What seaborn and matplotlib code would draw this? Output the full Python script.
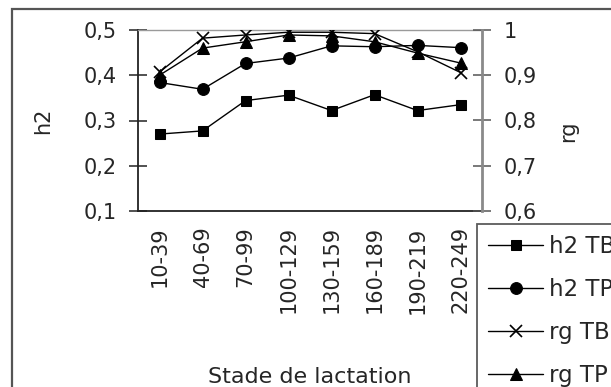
import matplotlib
matplotlib.use("Agg")
import matplotlib.pyplot as plt
import matplotlib.ticker as ticker
from matplotlib.patches import Rectangle
import seaborn as sns

# Data
stades = ["10-39", "40-69", "70-99", "100-129", "130-159", "160-189", "190-219", "220-249"]
h2_tb = [0.270, 0.277, 0.344, 0.356, 0.322, 0.357, 0.322, 0.335]
h2_tp = [0.384, 0.369, 0.426, 0.438, 0.465, 0.463, 0.466, 0.461]
rg_tb = [0.907, 0.982, 0.989, 0.995, 0.995, 0.992, 0.952, 0.906]
rg_tp = [0.900, 0.960, 0.974, 0.989, 0.987, 0.974, 0.949, 0.927]

h2_ticks = [0.1, 0.2, 0.3, 0.4, 0.5]
rg_ticks = [0.6, 0.7, 0.8, 0.9, 1.0]

sns.set_style("white")
plt.rcParams["font.family"] = ["DejaVu Sans"]

W, H = 611, 387
fig = plt.figure(figsize=(W / 100, H / 100), dpi=100)
ax = fig.add_axes([138 / W, 1 - 211 / H, 344 / W, 181 / H])
ax2 = ax.twinx()
ax2.set_position(ax.get_position())

line_kw = dict(color="black", linewidth=1.0, sort=False, markeredgecolor="black")
sns.lineplot(x=stades, y=h2_tb, ax=ax, marker="s", markersize=7.5, label="h2 TB", legend=False, **line_kw)
sns.lineplot(x=stades, y=h2_tp, ax=ax, marker="o", markersize=8.5, label="h2 TP", legend=False, **line_kw)
sns.lineplot(x=stades, y=rg_tb, ax=ax2, marker="x", markersize=8, markeredgewidth=1.2,
             label="rg TB", legend=False, **line_kw)
sns.lineplot(x=stades, y=rg_tp, ax=ax2, marker="^", markersize=8, label="rg TP", legend=False, **line_kw)

fmt = ticker.FuncFormatter(lambda v, p: f"{v:g}".replace(".", ","))

ax.set_xlim(-0.5, len(stades) - 0.5)
ax.set_ylim(0.1, 0.5)
ax2.set_ylim(0.6, 1.0)
ax.set_yticks(h2_ticks)
ax2.set_yticks(rg_ticks)
ax.yaxis.set_major_formatter(fmt)
ax2.yaxis.set_major_formatter(fmt)

ax.set_xticks(range(len(stades)))
ax.set_xticklabels(stades, rotation=90)
ax.xaxis.set_minor_locator(ticker.FixedLocator([i - 0.5 for i in range(len(stades) + 1)]))
ax.tick_params(axis="x", which="major", length=0, pad=11, labelsize=15)
ax.tick_params(axis="x", which="minor", direction="inout", length=13, width=1.1, color="#222222")
ax.tick_params(axis="y", direction="inout", length=13, width=1.1, pad=9, labelsize=15,
               color="#222222", left=True)
ax2.tick_params(axis="y", direction="inout", length=13, width=1.1, pad=9, labelsize=15,
                color="#555555", right=True)

ax.spines["right"].set_visible(False)
ax.spines["top"].set_color("#9a9a9a")
ax.spines["top"].set_linewidth(1.0)
for s in ["left", "bottom"]:
    ax.spines[s].set_color("#222222")
    ax.spines[s].set_linewidth(1.3)
for s in ["left", "top", "bottom"]:
    ax2.spines[s].set_visible(False)
ax2.spines["right"].set_color("#8a8a8a")
ax2.spines["right"].set_linewidth(2.0)

ax.set_xlabel("Stade de lactation", fontsize=16)
ax.xaxis.set_label_coords(0.5, -0.862)
ax.set_ylabel("h2", fontsize=15, va="center")
ax.yaxis.set_label_coords(-0.276, 0.5)
ax2.set_ylabel("rg", fontsize=15, rotation=90, va="center")
ax2.yaxis.set_label_coords(1.25, 0.44)

h1, l1 = ax.get_legend_handles_labels()
h2, l2 = ax2.get_legend_handles_labels()
leg = fig.legend(h1 + h2, l1 + l2, loc="upper left", bbox_to_anchor=(477 / W, 1 - 224 / H),
                 bbox_transform=fig.transFigure, fontsize=16.5, frameon=True, fancybox=False,
                 borderpad=0.5, labelspacing=0.86, handlelength=2.4, handletextpad=0.26,
                 borderaxespad=0)
leg.get_frame().set_edgecolor("#333333")
leg.get_frame().set_linewidth(1.3)

# outer chart frame (cut off on the right and bottom like the reference)
fig.patches.append(Rectangle((12 / W, -0.1), 1.5, 1 - 9 / H + 0.1, transform=fig.transFigure,
                             fill=False, edgecolor="#555555", linewidth=1.6))

fig.savefig("out.png", dpi=100)
